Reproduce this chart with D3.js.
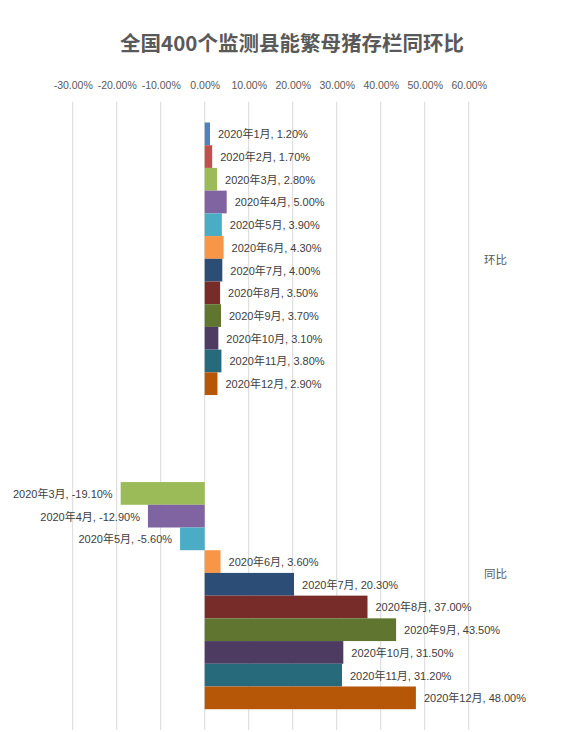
<!DOCTYPE html>
<html>
<head>
<meta charset="utf-8">
<script src="https://cdn.jsdelivr.net/npm/d3@7"></script>
<style>
  html, body { margin: 0; padding: 0; background: #fff; }
  svg { display: block; }
  text { font-family: "Liberation Sans", "Noto Sans CJK SC", sans-serif; }
</style>
</head>
<body>
<svg id="chart" width="561" height="732"></svg>
<script>
const title = "全国400个监测县能繁母猪存栏同环比";
const categories = ["环比", "同比"];
const months = ["2020年1月","2020年2月","2020年3月","2020年4月","2020年5月","2020年6月",
                "2020年7月","2020年8月","2020年9月","2020年10月","2020年11月","2020年12月"];
const huanbi = [1.2, 1.7, 2.8, 5.0, 3.9, 4.3, 4.0, 3.5, 3.7, 3.1, 3.8, 2.9];
const tongbi = [null, null, -19.1, -12.9, -5.6, 3.6, 20.3, 37.0, 43.5, 31.5, 31.2, 48.0];
const colors = ["#4F81BD","#C0504D","#9BBB59","#8064A2","#4BACC6","#F79646",
                "#2C4D75","#772C2A","#5F7530","#4D3B62","#276A7C","#B65708"];
const xTicks = [-30, -20, -10, 0, 10, 20, 30, 40, 50, 60];

const seriesByCat = { "环比": huanbi, "同比": tongbi };
const pct = d => d.toFixed(2) + "%";

const svg = d3.select("#chart");

const x = d3.scaleLinear().domain([-30, 60]).range([72.7, 468.7]);
const y0 = d3.scaleBand().domain(categories).range([101.7, 730])
  .paddingInner(0.1324).paddingOuter(0.0662);
const y1 = d3.scaleBand().domain(months).range([0, y0.bandwidth()]);

// title
svg.append("text")
  .attr("x", 292).attr("y", 42)
  .attr("text-anchor", "middle").attr("dominant-baseline", "central")
  .attr("font-size", 20.5).attr("font-weight", "bold")
  .attr("fill", "#595959")
  .style("font-family", "'Noto Sans CJK SC', sans-serif")
  .text(title);

// gridlines
svg.append("g").selectAll("line").data(xTicks).join("line")
  .attr("x1", d => x(d)).attr("x2", d => x(d))
  .attr("y1", 101.7).attr("y2", 730)
  .attr("stroke", "#d9d9d9").attr("stroke-width", 1);

// top axis
const axis = d3.axisTop(x).tickValues(xTicks)
  .tickFormat(pct).tickSize(0).tickPadding(0);
const ag = svg.append("g").attr("transform", "translate(0,89)").call(axis);
ag.select(".domain").remove();
ag.selectAll("text").attr("font-size", 10.5).attr("fill", "#595959")
  .style("font-family", "'Liberation Sans', sans-serif");

// bars
const groups = svg.append("g").selectAll("g").data(categories).join("g")
  .attr("transform", c => `translate(0,${y0(c)})`);

groups.each(function(c) {
  const vals = seriesByCat[c];
  const data = months.map((m, i) => ({ m, i, v: vals[i] })).filter(d => d.v !== null);
  const g = d3.select(this);
  g.selectAll("rect").data(data).join("rect")
    .attr("x", d => x(Math.min(0, d.v)))
    .attr("width", d => Math.abs(x(d.v) - x(0)))
    .attr("y", d => y1(d.m))
    .attr("height", y1.bandwidth())
    .attr("fill", d => colors[d.i]);
  g.selectAll("text").data(data).join("text")
    .attr("x", d => d.v >= 0 ? x(d.v) + 8 : x(d.v) - 8)
    .attr("y", d => y1(d.m) + y1.bandwidth() / 2 + 0.5)
    .attr("text-anchor", d => d.v >= 0 ? "start" : "end")
    .attr("dominant-baseline", "central")
    .attr("font-size", 11).attr("fill", "#404040")
    .text(d => `${d.m}, ${pct(d.v)}`);
});

// category labels
svg.append("g").selectAll("text").data(categories).join("text")
  .attr("x", 484)
  .attr("y", c => y0(c) + y0.bandwidth() / 2)
  .attr("dominant-baseline", "central")
  .attr("font-size", 11.5).attr("fill", "#595959")
  .style("font-family", "'Noto Sans CJK SC', sans-serif")
  .text(c => c);
</script>
</body>
</html>
